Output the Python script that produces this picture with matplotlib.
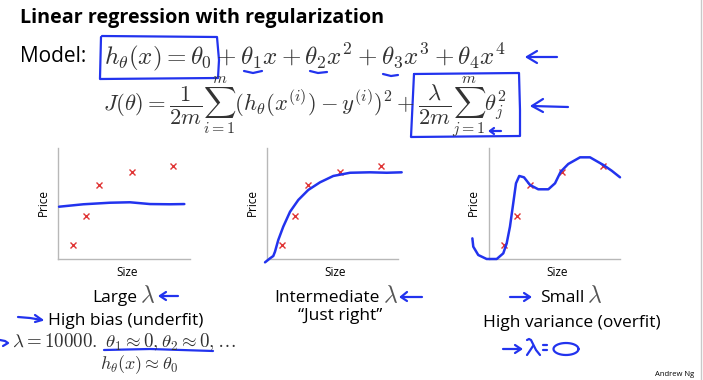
import numpy as np
import matplotlib
matplotlib.use("Agg")
from matplotlib import pyplot as plt

plt.rcParams['mathtext.fontset'] = 'cm'
plt.rcParams['font.family'] = ['Open Sans', 'DejaVu Sans']

W, H = 703, 380

# training points (same data in all three panels)
size_x = [1.15, 2.1, 3.1, 5.6, 8.7]
price_y = [1.3, 3.9, 6.7, 7.8, 8.4]

# hand drawn fits
fit1_x = [0.08, 1.92, 3.94, 5.45, 6.97, 8.48, 9.57]
fit1_y = [4.71, 4.93, 5.07, 5.11, 4.95, 4.93, 4.95]

fit2_x = [-0.15, 0.23, 0.48, 0.61, 0.86, 1.24, 1.76, 2.39, 3.15, 4.05, 5.06, 6.34, 7.86, 9.14, 10.28]
fit2_y = [-0.30, 0.06, 0.27, 0.66, 1.71, 2.91, 4.26, 5.32, 6.22, 6.91, 7.48, 7.77, 7.81, 7.77, 7.81]

fit3_x = [-1.27, -1.20, -0.82, -0.18, 0.59, 1.09, 1.35, 1.60, 1.85, 2.06, 2.31, 2.67, 3.13, 3.76,
          4.53, 5.04, 5.47, 6.05, 6.95, 7.71, 8.73, 9.37, 10.0]
fit3_y = [1.86, 1.11, 0.36, 0.0, 0.0, 0.51, 1.41, 2.91, 5.02, 6.82, 7.48, 7.36, 6.67, 6.28,
          6.28, 6.82, 7.86, 8.56, 9.16, 9.16, 8.47, 7.95, 7.36]

fits = [(fit1_x, fit1_y), (fit2_x, fit2_y), (fit3_x, fit3_y)]
panel_px = [(58, 190, 148, 259), (267, 398, 148, 259), (489, 620, 148, 259)]
price_x = [43, 252, 473]
size_lbl_x = [127, 335, 557]

lambda_words = ['Large', 'Intermediate', 'Small']
lambda_centres = [124, 336, 571]
verdicts = ['High bias (underfit)', '\u201cJust right\u201d', 'High variance (overfit)']
verdict_pos = [(126, 325), (340, 320), (572, 327)]

BLUE = '#2233ee'
RED = '#e03535'
MATH = '#333333'

fig = plt.figure(figsize=(W / 100, H / 100), dpi=100)

for (l, r, t, b), (fx, fy), px, sx in zip(panel_px, fits, price_x, size_lbl_x):
    ax = fig.add_axes([l / W, 1 - b / H, (r - l) / W, (b - t) / H])
    ax.set_xlim(0, 10)
    ax.set_ylim(0, 10)
    for s in ['top', 'right']:
        ax.spines[s].set_visible(False)
    for s in ['left', 'bottom']:
        ax.spines[s].set_color('#b8b8b8')
        ax.spines[s].set_linewidth(1.0)
    ax.set_xticks([])
    ax.set_yticks([])
    ax.patch.set_alpha(0)
    ax.plot(size_x, price_y, 'x', color=RED, ms=5, mew=1.0, zorder=3)
    ax.plot(fx, fy, color=BLUE, lw=1.8, clip_on=False, solid_capstyle='round', zorder=4)
    fig.text(px / W, 1 - 202 / H, 'Price', rotation=90, ha='center', va='center', fontsize=8.5)
    fig.text(sx / W, 1 - 273 / H, 'Size', ha='center', va='center', fontsize=8.5)

# overlay in pixel coordinates for slide text and pen strokes
ov = fig.add_axes([0, 0, 1, 1])
ov.set_xlim(0, W)
ov.set_ylim(H, 0)
ov.axis('off')
rend = fig.canvas.get_renderer()

ov.text(20, 18, 'Linear regression with regularization', fontsize=14.2, fontweight='bold',
        ha='left', va='center')
ov.text(20, 57, 'Model:', fontsize=15, ha='left', va='center')
ov.text(104, 57, r'$h_\theta(x) = \theta_0 + \theta_1 x + \theta_2 x^2 + \theta_3 x^3 + \theta_4 x^4$',
        fontsize=18, ha='left', va='center', color=MATH)
ov.text(103, 107, r'$J(\theta) = \dfrac{1}{2m}\sum_{i=1}^{m}(h_\theta(x^{(i)}) - y^{(i)})^2 + \dfrac{\lambda}{2m}\sum_{j=1}^{m}\theta_j^2$',
        fontsize=16.3, ha='left', va='center', color=MATH)

pen = dict(color=BLUE, lw=1.6, solid_capstyle='round', solid_joinstyle='round')
# box around h(x) = theta0
ov.plot([101, 100, 100, 218, 219, 217, 102], [37, 78, 79, 78, 60, 37, 36], **pen)
# underlines
ov.plot([244, 253, 262], [71, 73, 71], **pen)
ov.plot([310, 318, 327], [71, 73, 72], **pen)
ov.plot([383, 391, 398], [74, 76, 75], **pen)
# arrow after model
ov.plot([557, 527], [57, 57], **pen)
ov.plot([537, 527, 537], [51, 57, 63], **pen)
# box around regularization term
ov.plot([414, 411, 520, 520, 519, 414], [74, 137, 136, 110, 73, 74], **pen)
ov.plot([568, 532], [107, 106], **pen)
ov.plot([543, 532, 543], [99, 106, 112], **pen)
ov.plot([501, 490], [131, 131], **pen)
ov.plot([494, 490, 494], [128, 131, 134], **pen)


def width_px(txt):
    bb = txt.get_window_extent(rend)
    return bb.width


# captions: word followed by a math lambda, group centred
for word, cx in zip(lambda_words, lambda_centres):
    tw = ov.text(0, 302, word, fontsize=12.5, ha='left', va='baseline')
    tl = ov.text(0, 302, r'$\lambda$', fontsize=17, ha='left', va='baseline', color='#555555')
    w1, w2 = width_px(tw), width_px(tl)
    x0 = cx - (w1 + 3 + w2) / 2
    tw.set_x(x0)
    tl.set_x(x0 + w1 + 3)

for txt, (x, y) in zip(verdicts, verdict_pos):
    ov.text(x, y, txt, fontsize=12.5, ha='center', va='baseline')

ov.plot([178, 160], [296, 296], **pen)
ov.plot([166, 160, 166], [292, 296, 300], **pen)
ov.plot([18, 30, 42], [317, 318, 320], **pen)
ov.plot([35, 42, 35], [315, 320, 322], **pen)
ov.text(12, 342, r'$\lambda = 10000.\ \theta_1 \approx 0, \theta_2 \approx 0, \ldots$',
        fontsize=13.6, ha='left', va='center', color=MATH)
ov.plot([0, 5, 8, 3], [340, 341, 343, 346], **pen)
ov.plot([104, 150, 213], [350, 349, 351], **pen)
ov.text(139, 365, r'$h_\theta(x) \approx \theta_0$', fontsize=13, ha='center', va='center', color=MATH)

ov.plot([422, 401], [297, 297], **pen)
ov.plot([407, 401, 407], [292, 297, 301], **pen)

ov.plot([510, 530], [297, 297], **pen)
ov.plot([524, 530, 524], [293, 297, 301], **pen)
# handwritten "-> lambda = 0"
ov.plot([503, 521], [349, 349], **pen)
ov.plot([515, 521, 515], [345, 349, 353], **pen)
ov.plot([527, 529, 531, 533, 536, 540], [340, 339, 340, 344, 350, 355], **pen)
ov.plot([533, 527], [346, 355], **pen)
ov.plot([543, 547], [345, 345], **pen)
ov.plot([543, 547], [350, 350], **pen)
t = np.linspace(0, 2 * np.pi, 40)
ov.plot(566 + 12.5 * np.cos(t), 349 + 6 * np.sin(t), **pen)

ov.text(694, 374, 'Andrew Ng', fontsize=5.5, ha='right', va='center')
ov.plot([701, 701], [0, H], color='#c8c8c8', lw=1)

fig.savefig('out.png', dpi=100)
